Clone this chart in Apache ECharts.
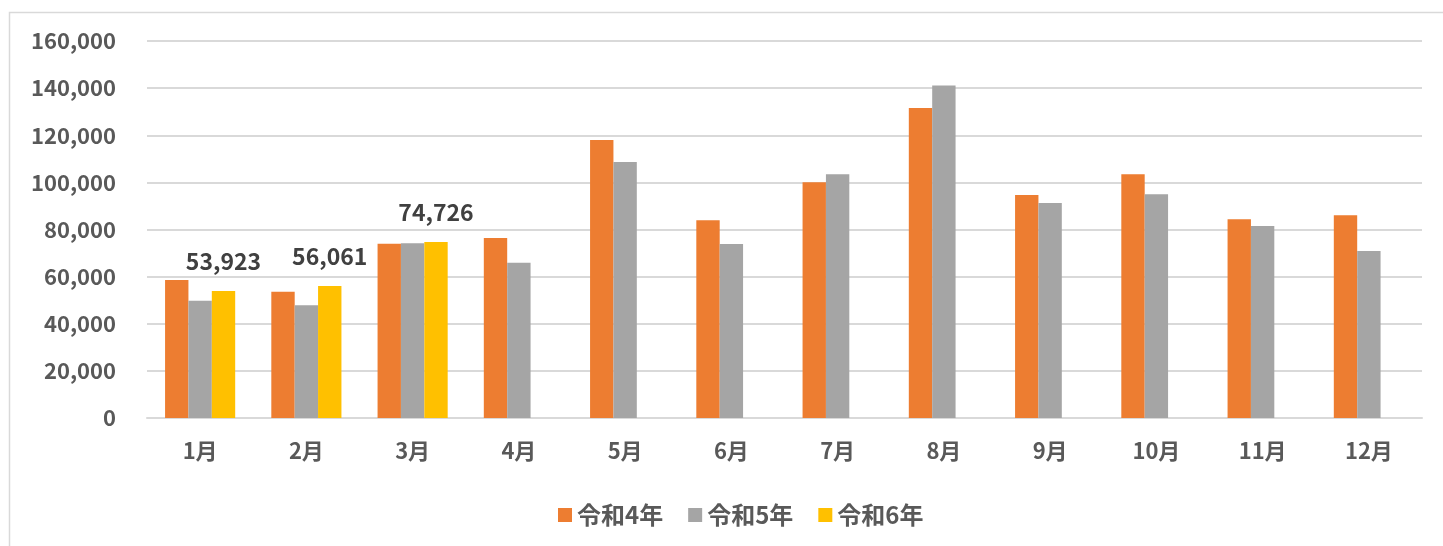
<!DOCTYPE html>
<html>
<head>
<meta charset="utf-8">
<script src="https://cdn.jsdelivr.net/npm/echarts@6/dist/echarts.min.js"></script>
<style>
html,body{margin:0;padding:0;background:#fff;}
#chart{width:1443px;height:546px;}
</style>
</head>
<body>
<div id="chart"></div>
<script>
const categories = ['1月','2月','3月','4月','5月','6月','7月','8月','9月','10月','11月','12月'];
const seriesNames = ['令和4年','令和5年','令和6年'];
const r4 = [58600, 53600, 73900, 76400, 118000, 83900, 100100, 131600, 94600, 103500, 84300, 86000];
const r5 = [49800, 47900, 74200, 65900, 108700, 73800, 103500, 141100, 91200, 95000, 81500, 70900];
const r6 = [53923, 56061, 74726, null, null, null, null, null, null, null, null, null];
const colors = ['#ED7D31', '#A5A5A5', '#FFC000'];

const font = '"Noto Sans CJK JP", "Liberation Sans", sans-serif';
const textColor = '#595959';

const chart = echarts.init(document.getElementById('chart'));
chart.setOption({
  animation: false,
  color: colors,
  graphic: [{
    type: 'rect',
    shape: {x: 9.5, y: 12.5, width: 1500, height: 600},
    style: {fill: 'none', stroke: '#d9d9d9', lineWidth: 1.5},
    silent: true
  }],
  grid: {left: 147, right: 21, top: 41, bottom: 128, containLabel: false},
  legend: {
    bottom: 14,
    left: 553,
    itemWidth: 14,
    itemHeight: 14,
    itemGap: 25,
    icon: 'rect',
    textStyle: {color: textColor, fontSize: 24, fontWeight: 'bold', fontFamily: font}
  },
  xAxis: {
    type: 'category',
    data: categories,
    axisLine: {lineStyle: {color: '#d9d9d9', width: 2}},
    axisTick: {show: false},
    axisLabel: {color: textColor, fontSize: 22, fontWeight: 'bold', fontFamily: font, margin: 22}
  },
  yAxis: {
    type: 'value',
    min: 0,
    max: 160000,
    interval: 20000,
    axisLine: {show: false},
    axisTick: {show: false},
    splitLine: {lineStyle: {color: '#d9d9d9', width: 2}},
    axisLabel: {
      color: textColor, fontSize: 22, fontWeight: 'bold', fontFamily: font, margin: 31,
      formatter: v => v.toLocaleString('en-US')
    }
  },
  series: [
    {name: seriesNames[0], type: 'bar', data: r4, barGap: '0%', barCategoryGap: '34%'},
    {name: seriesNames[1], type: 'bar', data: r5, barGap: '0%', barCategoryGap: '34%'},
    {name: seriesNames[2], type: 'bar', data: r6, barGap: '0%', barCategoryGap: '34%',
     label: {show: true, position: 'top', distance: 18, color: '#404040', fontSize: 23, fontWeight: 'bold', fontFamily: font,
       formatter: p => p.value == null ? '' : p.value.toLocaleString('en-US')}}
  ]
});
</script>
</body>
</html>
